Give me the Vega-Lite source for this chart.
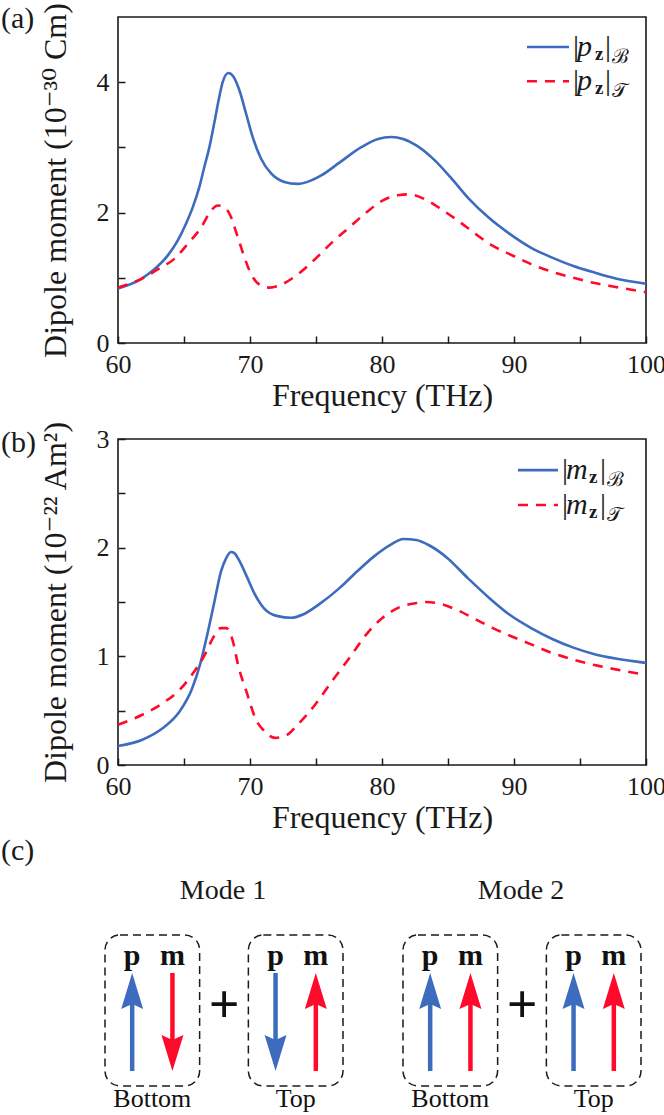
{
  "$schema": "https://vega.github.io/schema/vega-lite/v6.json",
  "padding": {"left": 0, "top": 1, "right": 0, "bottom": 0},
  "background": "white",
  "config": {
    "font": "Liberation Serif, DejaVu Serif, serif",
    "view": {"stroke": "#1a1a1a", "strokeWidth": 1.6},
    "axis": {"grid": false, "domain": false, "labelFont": "Liberation Serif, DejaVu Serif, serif", "titleFont": "Liberation Serif, DejaVu Serif, serif", "labelFontSize": 26, "titleFontSize": 32, "titleFontWeight": "normal", "labelColor": "#1a1a1a", "titleColor": "#1a1a1a", "tickColor": "#1a1a1a", "tickWidth": 1.5, "tickSize": -7, "labelFlush": false, "labelOverlap": false, "labelPadding": 16, "format": "d"},
    "axisX": {"titlePadding": 3, "labelPadding": 15},
    "axisY": {"titlePadding": 24},
    "text": {"font": "Liberation Serif, DejaVu Serif, serif", "color": "#1a1a1a"},
    "header": {"labelFont": "Liberation Serif, DejaVu Serif, serif"},
    "title": {"font": "Liberation Serif, DejaVu Serif, serif"}
  },
  "datasets": {
    "pB": [
      {"f": 60, "v": 0.836}, {"f": 61.74, "v": 0.98}, {"f": 62.75, "v": 1.13}, {"f": 63.76, "v": 1.34}, {"f": 64.52, "v": 1.57}, {"f": 65.15, "v": 1.83}, {"f": 65.66, "v": 2.08}, {"f": 66.16, "v": 2.39}, {"f": 66.54, "v": 2.7}, {"f": 66.92, "v": 3.0}, {"f": 67.3, "v": 3.38}, {"f": 67.6, "v": 3.7}, {"f": 67.93, "v": 4.0}, {"f": 68.36, "v": 4.14}, {"f": 68.76, "v": 4.08}, {"f": 69.19, "v": 3.88}, {"f": 69.7, "v": 3.52}, {"f": 70.2, "v": 3.16}, {"f": 70.83, "v": 2.83}, {"f": 71.6, "v": 2.6}, {"f": 72.6, "v": 2.47}, {"f": 73.6, "v": 2.44}, {"f": 74.6, "v": 2.49}, {"f": 75.4, "v": 2.57}, {"f": 76.8, "v": 2.77}, {"f": 78.4, "v": 3.0}, {"f": 79.7, "v": 3.13}, {"f": 80.7, "v": 3.16}, {"f": 81.6, "v": 3.13}, {"f": 82.6, "v": 3.03}, {"f": 83.9, "v": 2.82}, {"f": 85.2, "v": 2.54}, {"f": 86.5, "v": 2.23}, {"f": 88.1, "v": 1.92}, {"f": 89.7, "v": 1.67}, {"f": 91.3, "v": 1.46}, {"f": 92.9, "v": 1.31}, {"f": 94.5, "v": 1.18}, {"f": 96.1, "v": 1.08}, {"f": 97.7, "v": 0.99}, {"f": 100, "v": 0.91}
    ],
    "pT": [
      {"f": 60, "v": 0.85}, {"f": 61.74, "v": 0.98}, {"f": 63.26, "v": 1.16}, {"f": 64.27, "v": 1.29}, {"f": 65.28, "v": 1.52}, {"f": 66.29, "v": 1.77}, {"f": 67.05, "v": 2.03}, {"f": 67.55, "v": 2.11}, {"f": 68.18, "v": 2.06}, {"f": 68.5, "v": 1.96}, {"f": 69.0, "v": 1.67}, {"f": 69.5, "v": 1.36}, {"f": 70.1, "v": 1.05}, {"f": 70.7, "v": 0.9}, {"f": 71.5, "v": 0.85}, {"f": 72.3, "v": 0.89}, {"f": 73.6, "v": 1.05}, {"f": 74.9, "v": 1.28}, {"f": 76.2, "v": 1.54}, {"f": 77.5, "v": 1.77}, {"f": 78.8, "v": 2.0}, {"f": 80.0, "v": 2.18}, {"f": 81.3, "v": 2.27}, {"f": 82.0, "v": 2.28}, {"f": 83.3, "v": 2.2}, {"f": 84.5, "v": 2.05}, {"f": 85.8, "v": 1.87}, {"f": 87.1, "v": 1.67}, {"f": 88.4, "v": 1.49}, {"f": 89.7, "v": 1.36}, {"f": 91.3, "v": 1.21}, {"f": 92.9, "v": 1.09}, {"f": 94.5, "v": 1.0}, {"f": 96.1, "v": 0.92}, {"f": 97.7, "v": 0.86}, {"f": 100, "v": 0.78}
    ],
    "mB": [
      {"f": 60, "v": 0.175}, {"f": 61.8, "v": 0.23}, {"f": 63.4, "v": 0.34}, {"f": 64.65, "v": 0.49}, {"f": 65.6, "v": 0.7}, {"f": 66.25, "v": 0.94}, {"f": 66.8, "v": 1.22}, {"f": 67.3, "v": 1.5}, {"f": 67.8, "v": 1.78}, {"f": 68.18, "v": 1.9}, {"f": 68.56, "v": 1.96}, {"f": 68.81, "v": 1.95}, {"f": 69.19, "v": 1.88}, {"f": 69.7, "v": 1.75}, {"f": 70.33, "v": 1.58}, {"f": 71.08, "v": 1.44}, {"f": 72.1, "v": 1.37}, {"f": 73.1, "v": 1.355}, {"f": 74.1, "v": 1.39}, {"f": 75.25, "v": 1.48}, {"f": 76.8, "v": 1.63}, {"f": 78.1, "v": 1.78}, {"f": 79.4, "v": 1.92}, {"f": 80.7, "v": 2.03}, {"f": 81.6, "v": 2.08}, {"f": 82.6, "v": 2.07}, {"f": 83.6, "v": 2.02}, {"f": 84.9, "v": 1.91}, {"f": 86.5, "v": 1.72}, {"f": 88.1, "v": 1.54}, {"f": 89.7, "v": 1.38}, {"f": 91.3, "v": 1.26}, {"f": 92.9, "v": 1.16}, {"f": 94.5, "v": 1.08}, {"f": 96.1, "v": 1.02}, {"f": 97.7, "v": 0.98}, {"f": 100, "v": 0.94}
    ],
    "mT": [
      {"f": 60, "v": 0.37}, {"f": 61.8, "v": 0.46}, {"f": 63.4, "v": 0.57}, {"f": 64.65, "v": 0.69}, {"f": 65.6, "v": 0.83}, {"f": 66.6, "v": 1.02}, {"f": 67.2, "v": 1.17}, {"f": 67.8, "v": 1.26}, {"f": 68.2, "v": 1.26}, {"f": 68.7, "v": 1.14}, {"f": 69.1, "v": 0.92}, {"f": 69.8, "v": 0.65}, {"f": 70.4, "v": 0.43}, {"f": 71.1, "v": 0.31}, {"f": 71.9, "v": 0.25}, {"f": 72.7, "v": 0.27}, {"f": 73.6, "v": 0.37}, {"f": 74.9, "v": 0.55}, {"f": 76.2, "v": 0.77}, {"f": 77.5, "v": 0.98}, {"f": 78.8, "v": 1.2}, {"f": 80.0, "v": 1.35}, {"f": 81.3, "v": 1.45}, {"f": 82.6, "v": 1.49}, {"f": 83.3, "v": 1.5}, {"f": 84.5, "v": 1.48}, {"f": 85.8, "v": 1.42}, {"f": 87.1, "v": 1.34}, {"f": 88.4, "v": 1.26}, {"f": 89.7, "v": 1.19}, {"f": 91.3, "v": 1.11}, {"f": 92.9, "v": 1.03}, {"f": 94.5, "v": 0.97}, {"f": 96.1, "v": 0.92}, {"f": 97.7, "v": 0.88}, {"f": 100, "v": 0.83}
    ],
    "modes": [
      {"mode": "Mode 1", "layer": "Bottom", "moment": "p", "dir": 1},
      {"mode": "Mode 1", "layer": "Bottom", "moment": "m", "dir": -1},
      {"mode": "Mode 1", "layer": "Top", "moment": "p", "dir": -1},
      {"mode": "Mode 1", "layer": "Top", "moment": "m", "dir": 1},
      {"mode": "Mode 2", "layer": "Bottom", "moment": "p", "dir": 1},
      {"mode": "Mode 2", "layer": "Bottom", "moment": "m", "dir": 1},
      {"mode": "Mode 2", "layer": "Top", "moment": "p", "dir": 1},
      {"mode": "Mode 2", "layer": "Top", "moment": "m", "dir": 1}
    ]
  },
  "spacing": 2,
  "vconcat": [
    {
      "spacing": 7,
      "vconcat": [
        {
          "width": 528,
          "height": 326,
          "layer": [
            {
              "data": {"name": "pB"},
              "mark": {"type": "line", "color": "#3D6BBE", "strokeWidth": 2.6, "interpolate": "monotone"},
              "encoding": {
                "x": {"field": "f", "type": "quantitative", "title": "Frequency (THz)", "scale": {"domain": [60, 100], "nice": false, "zero": false}, "axis": {"values": [60, 65, 70, 75, 80, 85, 90, 95, 100], "labelExpr": "datum.value % 10 === 0 ? datum.label : ''"}},
                "y": {"field": "v", "type": "quantitative", "title": "Dipole moment (10⁻³⁰ Cm)", "scale": {"domain": [0, 5], "nice": false, "zero": false}, "axis": {"values": [0, 1, 2, 3, 4], "labelExpr": "datum.value % 2 === 0 ? datum.label : ''"}}
              }
            },
            {
              "data": {"name": "pT"},
              "mark": {"type": "line", "color": "#FF0A2A", "strokeWidth": 2.6, "strokeDash": [10, 8], "interpolate": "monotone"},
              "encoding": {"x": {"field": "f", "type": "quantitative"}, "y": {"field": "v", "type": "quantitative"}}
            },
            {"data": {"values": [{}]}, "mark": {"type": "rule", "color": "#3D6BBE", "strokeWidth": 2.6}, "encoding": {"x": {"datum": 90.98, "type": "quantitative"}, "x2": {"datum": 94.17}, "y": {"datum": 4.54, "type": "quantitative"}}},
            {"data": {"values": [{}]}, "mark": {"type": "rule", "color": "#FF0A2A", "strokeWidth": 2.6, "strokeDash": [10, 8]}, "encoding": {"x": {"datum": 90.98, "type": "quantitative"}, "x2": {"datum": 94.17}, "y": {"datum": 4.015, "type": "quantitative"}}},
            {"data": {"values": [{}]}, "mark": {"type": "text", "text": "|", "align": "left", "baseline": "middle", "fontSize": 30}, "encoding": {"x": {"datum": 94.47, "type": "quantitative"}, "y": {"datum": 4.54, "type": "quantitative"}}},
            {"data": {"values": [{}]}, "mark": {"type": "text", "text": "p", "align": "left", "baseline": "middle", "fontSize": 30, "fontStyle": "italic", "dx": 4}, "encoding": {"x": {"datum": 94.47, "type": "quantitative"}, "y": {"datum": 4.54, "type": "quantitative"}}},
            {"data": {"values": [{}]}, "mark": {"type": "text", "text": "z", "align": "left", "baseline": "middle", "fontSize": 19, "fontWeight": "bold", "dx": 22, "dy": 7}, "encoding": {"x": {"datum": 94.47, "type": "quantitative"}, "y": {"datum": 4.54, "type": "quantitative"}}},
            {"data": {"values": [{}]}, "mark": {"type": "text", "text": "|", "align": "left", "baseline": "middle", "fontSize": 30, "dx": 32}, "encoding": {"x": {"datum": 94.47, "type": "quantitative"}, "y": {"datum": 4.54, "type": "quantitative"}}},
            {"data": {"values": [{}]}, "mark": {"type": "text", "text": "ℬ", "align": "left", "baseline": "middle", "fontSize": 20, "dx": 39, "dy": 10}, "encoding": {"x": {"datum": 94.47, "type": "quantitative"}, "y": {"datum": 4.54, "type": "quantitative"}}},
            {"data": {"values": [{}]}, "mark": {"type": "text", "text": "|", "align": "left", "baseline": "middle", "fontSize": 30}, "encoding": {"x": {"datum": 94.47, "type": "quantitative"}, "y": {"datum": 4.015, "type": "quantitative"}}},
            {"data": {"values": [{}]}, "mark": {"type": "text", "text": "p", "align": "left", "baseline": "middle", "fontSize": 30, "fontStyle": "italic", "dx": 4}, "encoding": {"x": {"datum": 94.47, "type": "quantitative"}, "y": {"datum": 4.015, "type": "quantitative"}}},
            {"data": {"values": [{}]}, "mark": {"type": "text", "text": "z", "align": "left", "baseline": "middle", "fontSize": 19, "fontWeight": "bold", "dx": 22, "dy": 7}, "encoding": {"x": {"datum": 94.47, "type": "quantitative"}, "y": {"datum": 4.015, "type": "quantitative"}}},
            {"data": {"values": [{}]}, "mark": {"type": "text", "text": "|", "align": "left", "baseline": "middle", "fontSize": 30, "dx": 32}, "encoding": {"x": {"datum": 94.47, "type": "quantitative"}, "y": {"datum": 4.015, "type": "quantitative"}}},
            {"data": {"values": [{}]}, "mark": {"type": "text", "text": "𝒯", "align": "left", "baseline": "middle", "fontSize": 20, "dx": 39, "dy": 10}, "encoding": {"x": {"datum": 94.47, "type": "quantitative"}, "y": {"datum": 4.015, "type": "quantitative"}}},
            {"data": {"values": [{}]}, "mark": {"type": "text", "text": "(a)", "align": "left", "baseline": "middle", "fontSize": 30, "dx": -117, "dy": 2}, "encoding": {"x": {"datum": 60, "type": "quantitative"}, "y": {"datum": 5, "type": "quantitative"}}}
          ]
        },
        {
          "width": 528,
          "height": 326,
          "layer": [
            {
              "data": {"name": "mB"},
              "mark": {"type": "line", "color": "#3D6BBE", "strokeWidth": 2.6, "interpolate": "monotone"},
              "encoding": {
                "x": {"field": "f", "type": "quantitative", "title": "Frequency (THz)", "scale": {"domain": [60, 100], "nice": false, "zero": false}, "axis": {"values": [60, 65, 70, 75, 80, 85, 90, 95, 100], "labelExpr": "datum.value % 10 === 0 ? datum.label : ''"}},
                "y": {"field": "v", "type": "quantitative", "title": "Dipole moment (10⁻²² Am²)", "scale": {"domain": [0, 3], "nice": false, "zero": false}, "axis": {"values": [0, 0.5, 1, 1.5, 2, 2.5, 3], "labelExpr": "datum.value % 1 === 0 ? datum.label : ''"}}
              }
            },
            {
              "data": {"name": "mT"},
              "mark": {"type": "line", "color": "#FF0A2A", "strokeWidth": 2.6, "strokeDash": [10, 8], "interpolate": "monotone"},
              "encoding": {"x": {"field": "f", "type": "quantitative"}, "y": {"field": "v", "type": "quantitative"}}
            },
            {"data": {"values": [{}]}, "mark": {"type": "rule", "color": "#3D6BBE", "strokeWidth": 2.6}, "encoding": {"x": {"datum": 90.3, "type": "quantitative"}, "x2": {"datum": 93.33}, "y": {"datum": 2.714, "type": "quantitative"}}},
            {"data": {"values": [{}]}, "mark": {"type": "rule", "color": "#FF0A2A", "strokeWidth": 2.6, "strokeDash": [10, 8]}, "encoding": {"x": {"datum": 90.3, "type": "quantitative"}, "x2": {"datum": 93.33}, "y": {"datum": 2.392, "type": "quantitative"}}},
            {"data": {"values": [{}]}, "mark": {"type": "text", "text": "|", "align": "left", "baseline": "middle", "fontSize": 30}, "encoding": {"x": {"datum": 93.64, "type": "quantitative"}, "y": {"datum": 2.714, "type": "quantitative"}}},
            {"data": {"values": [{}]}, "mark": {"type": "text", "text": "m", "align": "left", "baseline": "middle", "fontSize": 30, "fontStyle": "italic", "dx": 4}, "encoding": {"x": {"datum": 93.64, "type": "quantitative"}, "y": {"datum": 2.714, "type": "quantitative"}}},
            {"data": {"values": [{}]}, "mark": {"type": "text", "text": "z", "align": "left", "baseline": "middle", "fontSize": 19, "fontWeight": "bold", "dx": 27, "dy": 7}, "encoding": {"x": {"datum": 93.64, "type": "quantitative"}, "y": {"datum": 2.714, "type": "quantitative"}}},
            {"data": {"values": [{}]}, "mark": {"type": "text", "text": "|", "align": "left", "baseline": "middle", "fontSize": 30, "dx": 38}, "encoding": {"x": {"datum": 93.64, "type": "quantitative"}, "y": {"datum": 2.714, "type": "quantitative"}}},
            {"data": {"values": [{}]}, "mark": {"type": "text", "text": "ℬ", "align": "left", "baseline": "middle", "fontSize": 20, "dx": 45, "dy": 10}, "encoding": {"x": {"datum": 93.64, "type": "quantitative"}, "y": {"datum": 2.714, "type": "quantitative"}}},
            {"data": {"values": [{}]}, "mark": {"type": "text", "text": "|", "align": "left", "baseline": "middle", "fontSize": 30}, "encoding": {"x": {"datum": 93.64, "type": "quantitative"}, "y": {"datum": 2.392, "type": "quantitative"}}},
            {"data": {"values": [{}]}, "mark": {"type": "text", "text": "m", "align": "left", "baseline": "middle", "fontSize": 30, "fontStyle": "italic", "dx": 4}, "encoding": {"x": {"datum": 93.64, "type": "quantitative"}, "y": {"datum": 2.392, "type": "quantitative"}}},
            {"data": {"values": [{}]}, "mark": {"type": "text", "text": "z", "align": "left", "baseline": "middle", "fontSize": 19, "fontWeight": "bold", "dx": 27, "dy": 7}, "encoding": {"x": {"datum": 93.64, "type": "quantitative"}, "y": {"datum": 2.392, "type": "quantitative"}}},
            {"data": {"values": [{}]}, "mark": {"type": "text", "text": "|", "align": "left", "baseline": "middle", "fontSize": 30, "dx": 38}, "encoding": {"x": {"datum": 93.64, "type": "quantitative"}, "y": {"datum": 2.392, "type": "quantitative"}}},
            {"data": {"values": [{}]}, "mark": {"type": "text", "text": "𝒯", "align": "left", "baseline": "middle", "fontSize": 20, "dx": 45, "dy": 10}, "encoding": {"x": {"datum": 93.64, "type": "quantitative"}, "y": {"datum": 2.392, "type": "quantitative"}}},
            {"data": {"values": [{}]}, "mark": {"type": "text", "text": "(b)", "align": "left", "baseline": "middle", "fontSize": 30, "dx": -117, "dy": 4}, "encoding": {"x": {"datum": 60, "type": "quantitative"}, "y": {"datum": 3, "type": "quantitative"}}}
          ]
        }
      ]
    },
    {
      "data": {"name": "modes"},
      "title": {"text": "(c)", "anchor": "start", "frame": "group", "dx": -117, "fontSize": 30, "fontWeight": "normal", "color": "#1a1a1a", "offset": 11},
      "spacing": {"column": 58},
      "facet": {"column": {"field": "mode", "type": "nominal", "sort": ["Mode 1", "Mode 2"], "title": null, "header": {"labelFontSize": 28, "labelColor": "#1a1a1a", "labelPadding": 27}}},
      "spec": {
        "width": 210,
        "height": 180,
        "view": {"stroke": null},
        "layer": [
          {
            "transform": [{"filter": "datum.moment === 'p'"}],
            "mark": {"type": "rect", "fillOpacity": 0, "stroke": "#1a1a1a", "strokeWidth": 1.5, "strokeDash": [8, 5], "cornerRadius": 15},
            "encoding": {
              "x": {"field": "layer", "type": "nominal", "sort": ["Bottom", "Top"], "scale": {"type": "band", "range": [-13, 225], "paddingInner": 0.34, "paddingOuter": 0}, "axis": null},
              "y": {"datum": 1.776, "type": "quantitative", "scale": {"domain": [-1.837, 1.837], "nice": false, "zero": false}, "axis": null},
              "y2": {"datum": -1.306}
            }
          },
          {
            "transform": [{"filter": "datum.dir === 1"}],
            "mark": {"type": "rule", "strokeWidth": 4.5, "strokeCap": "butt"},
            "encoding": {
              "x": {"field": "layer", "type": "nominal", "sort": ["Bottom", "Top"]},
              "xOffset": {"field": "moment", "type": "nominal", "sort": ["p", "m"], "scale": {"paddingInner": 0, "paddingOuter": 0.175}},
              "y": {"datum": -1, "type": "quantitative"},
              "y2": {"datum": 0.8},
              "color": {"field": "moment", "type": "nominal", "scale": {"domain": ["p", "m"], "range": ["#3D6BBE", "#FF0A2A"]}, "legend": null}
            }
          },
          {
            "transform": [{"filter": "datum.dir === -1"}],
            "mark": {"type": "rule", "strokeWidth": 4.5, "strokeCap": "butt"},
            "encoding": {
              "x": {"field": "layer", "type": "nominal", "sort": ["Bottom", "Top"]},
              "xOffset": {"field": "moment", "type": "nominal", "sort": ["p", "m"]},
              "y": {"datum": -0.8, "type": "quantitative"},
              "y2": {"datum": 1},
              "color": {"field": "moment", "type": "nominal", "legend": null}
            }
          },
          {
            "transform": [{"filter": "datum.dir === 1"}],
            "mark": {"type": "point", "filled": true, "opacity": 1, "size": 1296, "shape": "M0,0L0.61,2L0,1.72L-0.61,2Z", "strokeWidth": 0},
            "encoding": {
              "x": {"field": "layer", "type": "nominal", "sort": ["Bottom", "Top"]},
              "xOffset": {"field": "moment", "type": "nominal", "sort": ["p", "m"]},
              "y": {"datum": 1, "type": "quantitative"},
              "color": {"field": "moment", "type": "nominal", "legend": null}
            }
          },
          {
            "transform": [{"filter": "datum.dir === -1"}],
            "mark": {"type": "point", "filled": true, "opacity": 1, "size": 1296, "shape": "M0,0L0.61,-2L0,-1.72L-0.61,-2Z", "strokeWidth": 0},
            "encoding": {
              "x": {"field": "layer", "type": "nominal", "sort": ["Bottom", "Top"]},
              "xOffset": {"field": "moment", "type": "nominal", "sort": ["p", "m"]},
              "y": {"datum": -1, "type": "quantitative"},
              "color": {"field": "moment", "type": "nominal", "legend": null}
            }
          },
          {
            "mark": {"type": "text", "fontSize": 30, "fontWeight": "bold", "baseline": "middle", "color": "#111111"},
            "encoding": {
              "x": {"field": "layer", "type": "nominal", "sort": ["Bottom", "Top"]},
              "xOffset": {"field": "moment", "type": "nominal", "sort": ["p", "m"]},
              "y": {"datum": 1.347, "type": "quantitative"},
              "text": {"field": "moment"}
            }
          },
          {
            "transform": [{"filter": "datum.moment === 'p'"}],
            "mark": {"type": "text", "fontSize": 26, "baseline": "middle", "color": "#111111"},
            "encoding": {
              "x": {"field": "layer", "type": "nominal", "sort": ["Bottom", "Top"]},
              "y": {"datum": -1.58, "type": "quantitative"},
              "text": {"field": "layer"}
            }
          },
          {
            "transform": [{"filter": "datum.moment === 'p' && datum.layer === 'Bottom'"}],
            "mark": {"type": "text", "text": "+", "fontSize": 54, "fontWeight": "bold", "baseline": "middle", "color": "#111111"},
            "encoding": {
              "x": {"field": "layer", "type": "nominal", "sort": ["Bottom", "Top"], "bandPosition": 1.26},
              "y": {"datum": 0.33, "type": "quantitative"}
            }
          }
        ]
      }
    }
  ]
}
